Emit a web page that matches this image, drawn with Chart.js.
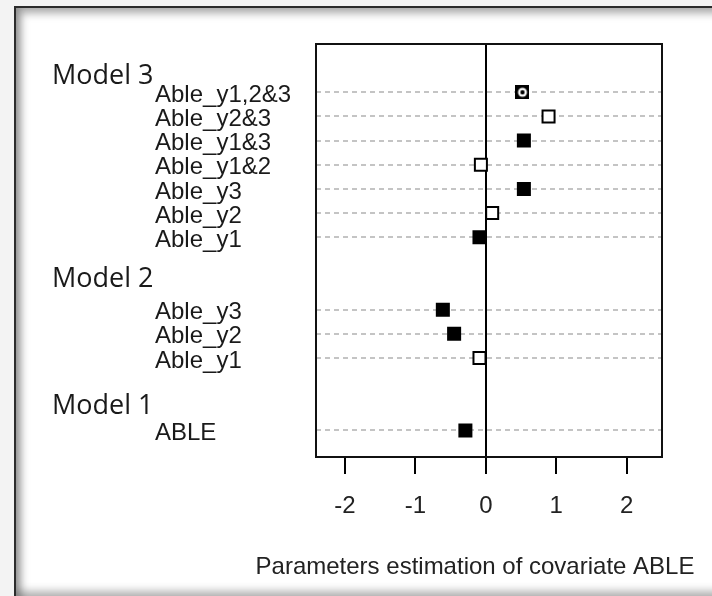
<!DOCTYPE html>
<html>
<head>
<meta charset="utf-8">
<script src="https://cdn.jsdelivr.net/npm/chart.js@4"></script>
<style>
  html, body { margin: 0; padding: 0; width: 712px; height: 596px; overflow: hidden; background: #f3f3f3; }
  #frame {
    position: absolute; left: 14px; top: 6px; width: 720px; height: 594px;
    background: #fff; border: 2px solid #2b2b2b; box-sizing: border-box;
    box-shadow: inset 5px 5px 8px rgba(0,0,0,0.35), inset 0 -7px 8px rgba(0,0,0,0.3);
  }
  #chart { position: absolute; left: 0; top: 0; }
</style>
</head>
<body>
<div id="frame"></div>
<canvas id="chart" width="712" height="596"></canvas>
<script>
// rows from top to bottom (row index on the y scale)
let rowLabels = [
  "Able_y1,2&3",
  "Able_y2&3",
  "Able_y1&3",
  "Able_y1&2",
  "Able_y3",
  "Able_y2",
  "Able_y1",
  "Able_y3",
  "Able_y2",
  "Able_y1",
  "ABLE",
];
let rowIndex = [0, 1, 2, 3, 4, 5, 6, 9, 10, 11, 14];
let estimates = [0.52, 0.89, 0.54, -0.07, 0.54, 0.09, -0.09, -0.61, -0.45, -0.09, -0.29];
// marker kind per row: filled, open, or both (square with circle)
let markerKinds = ["both", "open", "filled", "open", "filled", "open", "filled", "filled", "filled", "open", "filled"];

let modelLabels = ["Model 3", "Model 2", "Model 1"];
let modelLabelRows = [-0.65, 7.75, 13];

let xTicks = [-2, -1, 0, 1, 2];
let xTitle = "Parameters estimation of covariate ABLE";

// square with a circle inside, used for the combined estimate
const bothMarker = document.createElement("canvas");
bothMarker.width = 14;
bothMarker.height = 14;
(function () {
  const c = bothMarker.getContext("2d");
  c.fillStyle = "#000";
  c.fillRect(0, 0, 14, 14);
  c.fillStyle = "#fff";
  c.beginPath();
  c.arc(7, 7, 4.5, 0, Math.PI * 2);
  c.fill();
  c.fillStyle = "#000";
  c.beginPath();
  c.arc(7, 7, 2.2, 0, Math.PI * 2);
  c.fill();
})();

const plotBox = {
  id: "plotBox",
  beforeDatasetsDraw(chart) {
    const { ctx, chartArea } = chart;
    ctx.save();
    ctx.strokeStyle = "#111";
    ctx.lineWidth = 2;
    ctx.strokeRect(chartArea.left, chartArea.top, chartArea.right - chartArea.left, chartArea.bottom - chartArea.top);
    ctx.restore();
  },
  afterDraw(chart) {
    const { ctx } = chart;
    const y = chart.scales.y;
    ctx.save();
    ctx.font = '27px "Open Sans"';
    ctx.fillStyle = "#1a1a1a";
    ctx.textAlign = "left";
    ctx.textBaseline = "middle";
    modelLabels.forEach((lab, i) => {
      ctx.fillText(lab, 52, y.getPixelForValue(modelLabelRows[i]));
    });
    // axis title, a bit left of the plot centre as in the original
    ctx.font = '24px "Liberation Sans"';
    ctx.fillStyle = "#222";
    ctx.textAlign = "center";
    ctx.fillText(xTitle, 475, 567);
    ctx.restore();
  },
};

const points = estimates.map((v, i) => ({ x: v, y: rowIndex[i] }));

new Chart(document.getElementById("chart"), {
  type: "scatter",
  data: {
    datasets: [
      {
        data: points,
        pointStyle: (c) => (markerKinds[c.dataIndex] === "both" ? bothMarker : "rect"),
        pointRadius: 8.5,
        pointHoverRadius: 8.5,
        backgroundColor: (c) => (markerKinds[c.dataIndex] === "filled" ? "#000" : "#fff"),
        borderColor: "#000",
        borderWidth: 2,
      },
    ],
  },
  plugins: [plotBox],
  options: {
    responsive: false,
    animation: false,
    events: [],
    layout: {
      padding: { left: 155, top: 44, right: 50, bottom: 0 },
    },
    plugins: {
      legend: { display: false },
      tooltip: { enabled: false },
    },
    scales: {
      x: {
        type: "linear",
        min: -2.41,
        max: 2.5,
        afterBuildTicks: (scale) => {
          scale.ticks = xTicks.map((v) => ({ value: v }));
        },
        afterFit: (scale) => {
          scale.height = 139;
        },
        grid: {
          drawOnChartArea: true,
          color: (c) => (c.tick && c.tick.value === 0 ? "#000" : "rgba(0,0,0,0)"),
          lineWidth: 2,
          tickColor: "#000",
          tickLength: 17,
          tickWidth: 2,
        },
        border: { display: false },
        ticks: {
          color: "#222",
          font: { family: "Liberation Sans", size: 24 },
          padding: 18,
        },
      },
      y: {
        type: "linear",
        reverse: true,
        min: -2.0,
        max: 15.1,
        afterBuildTicks: (scale) => {
          scale.ticks = rowIndex.map((v) => ({ value: v }));
        },
        afterFit: (scale) => {
          scale.width = 161;
        },
        grid: {
          color: "#c4c4c4",
          lineWidth: 2,
          drawTicks: false,
          tickLength: 0,
        },
        border: { display: false, dash: [5, 4] },
        ticks: {
          autoSkip: false,
          crossAlign: "far",
          labelOffset: 3,
          color: "#1a1a1a",
          font: { family: "Liberation Sans", size: 24 },
          callback: (value, index) => rowLabels[index],
        },
      },
    },
  },
});
</script>
</body>
</html>
